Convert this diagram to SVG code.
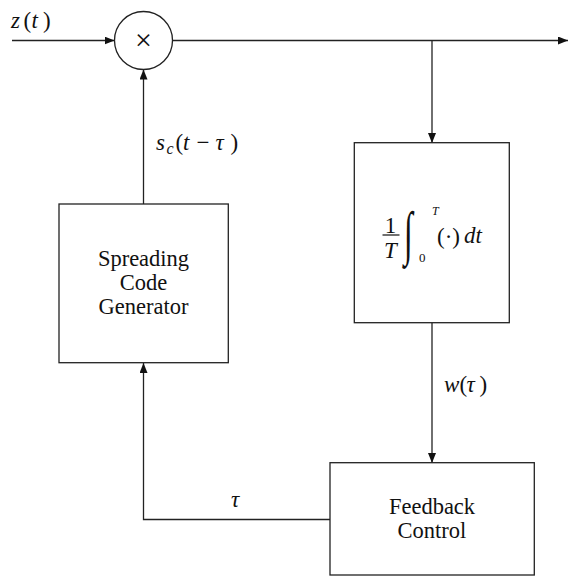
<svg xmlns="http://www.w3.org/2000/svg" width="569" height="576" viewBox="0 0 569 576">
<style>
.ln{fill:none;stroke:#222;stroke-width:1.3}
.box{fill:#fff;stroke:#222;stroke-width:1.3}
text{font-family:'Liberation Serif','Times New Roman',serif;fill:#111}
.lbl{font-size:22.5px}
.m{font-size:23px}
.i{font-style:italic}
</style>
<defs>
<marker id="ah" viewBox="0 0 10 8" refX="10" refY="4" markerWidth="10" markerHeight="8" markerUnits="userSpaceOnUse" orient="auto">
<path d="M0,0 L10,4 L0,8 Z" fill="#111"/>
</marker>
</defs>
<g id="connectors">
<line class="ln" x1="12" y1="40.5" x2="114.5" y2="40.5" marker-end="url(#ah)"/>
<line class="ln" x1="172.5" y1="40.5" x2="568" y2="40.5" marker-end="url(#ah)"/>
<line class="ln" x1="432" y1="40.5" x2="432" y2="143" marker-end="url(#ah)"/>
<line class="ln" x1="143.5" y1="204" x2="143.5" y2="69.5" marker-end="url(#ah)"/>
<line class="ln" x1="432" y1="323" x2="432" y2="463" marker-end="url(#ah)"/>
<polyline class="ln" points="330,519.5 143.5,519.5 143.5,363" marker-end="url(#ah)"/>
</g>
<g id="labels">
<text class="m" y="27.5"><tspan class="i" x="11">z</tspan><tspan x="23.5">(</tspan><tspan class="i" x="31.5">t</tspan><tspan x="43">)</tspan></text>
<text class="m" y="150"><tspan class="i" x="156">s</tspan><tspan class="i" font-size="16" x="166.5" y="154">c</tspan><tspan x="175.5" y="150">(</tspan><tspan class="i" x="183">t</tspan><tspan x="196.5">−</tspan><tspan class="i" x="215.5">τ</tspan><tspan x="230.5">)</tspan></text>
<text class="m" y="391.5"><tspan class="i" x="444">w</tspan><tspan x="459.5">(</tspan><tspan class="i" x="466.5">τ</tspan><tspan x="479.5">)</tspan></text>
<text class="m i" x="231" y="507">τ</text>
</g>
<g id="multiplier">
<circle class="box" cx="143.5" cy="40.5" r="29"/>
<text x="143.5" y="50" font-size="30" text-anchor="middle">×</text>
</g>
<g id="spreading-code-generator">
<rect class="box" x="59" y="204" width="169.3" height="158.7"/>
<text class="lbl" text-anchor="middle"><tspan x="143.5" y="266">Spreading</tspan><tspan x="143.5" y="290">Code</tspan><tspan x="143.5" y="314">Generator</tspan></text>
</g>
<g id="integrator">
<rect class="box" x="354.3" y="142.7" width="155" height="180"/>
<text class="m" x="390.5" y="233" text-anchor="middle">1</text>
<line class="ln" x1="382.5" y1="235" x2="399.5" y2="235"/>
<text class="m i" x="390.5" y="258" text-anchor="middle">T</text>
<text font-size="34" transform="translate(404,253) scale(0.95,1.75)">∫</text>
<text class="i" x="432" y="215" font-size="12">T</text>
<text x="419" y="261.7" font-size="13">0</text>
<text class="m" x="437" y="244">(·)</text>
<text class="m i" x="464" y="243">dt</text>
</g>
<g id="feedback-control">
<rect class="box" x="330" y="462.7" width="204.3" height="112.3"/>
<text class="lbl" text-anchor="middle"><tspan x="432" y="514">Feedback</tspan><tspan x="432" y="538">Control</tspan></text>
</g>
</svg>
